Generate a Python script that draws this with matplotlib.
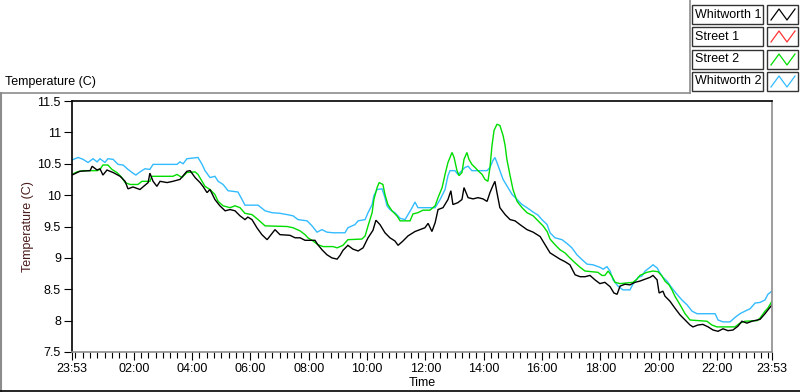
import matplotlib
matplotlib.use('Agg')
import matplotlib.pyplot as plt
from matplotlib.patches import Rectangle
from matplotlib.lines import Line2D
import numpy as np

plt.rcParams['font.family'] = ['Liberation Sans', 'DejaVu Sans']

# time in hours since 23:53, temperatures in C
w1_hours = [0.00, 0.27, 0.62, 0.69, 0.86, 0.96, 1.06, 1.20, 1.41, 1.65, 1.82, 1.92, 2.09, 2.33, 2.43,
            2.61, 2.67, 2.78, 2.91, 3.02, 3.26, 3.46, 3.70, 3.81, 3.94, 4.05, 4.22, 4.39, 4.49, 4.63,
            4.73, 4.90, 5.07, 5.25, 5.42, 5.59, 5.76, 5.93, 6.03, 6.17, 6.34, 6.51, 6.69, 6.79, 6.96,
            7.13, 7.47, 7.65, 7.82, 7.99, 8.16, 8.33, 8.43, 8.57, 8.74, 8.91, 9.09, 9.19, 9.29, 9.46,
            9.63, 9.81, 9.98, 10.15, 10.32, 10.42, 10.56, 10.73, 10.90, 11.07, 11.18, 11.35, 11.52,
            11.76, 11.93, 12.10, 12.21, 12.34, 12.45, 12.55, 12.72, 12.89, 12.99, 13.06, 13.23, 13.37,
            13.44, 13.58, 13.75, 13.92, 14.09, 14.23, 14.33, 14.43, 14.50, 14.57, 14.67, 14.85, 15.02,
            15.19, 15.36, 15.60, 15.81, 16.05, 16.22, 16.39, 16.56, 16.73, 16.90, 17.07, 17.25, 17.42,
            17.59, 17.76, 17.93, 18.10, 18.27, 18.45, 18.58, 18.69, 18.79, 18.96, 19.13, 19.30, 19.47,
            19.65, 19.82, 19.92, 20.06, 20.13, 20.26, 20.33, 20.50, 20.67, 20.85, 21.02, 21.19, 21.29,
            21.46, 21.63, 21.81, 21.98, 22.15, 22.32, 22.49, 22.66, 22.83, 22.97, 23.14, 23.31, 23.49,
            23.59, 23.76, 23.86, 24.00]
w1_temp = [10.32, 10.38, 10.39, 10.46, 10.40, 10.42, 10.32, 10.40, 10.36, 10.30, 10.22, 10.10, 10.13,
           10.09, 10.13, 10.20, 10.35, 10.22, 10.14, 10.22, 10.20, 10.22, 10.25, 10.31, 10.38, 10.39,
           10.28, 10.20, 10.14, 10.04, 10.09, 9.93, 9.83, 9.75, 9.77, 9.75, 9.67, 9.61, 9.65, 9.61,
           9.48, 9.37, 9.29, 9.35, 9.45, 9.37, 9.36, 9.32, 9.32, 9.28, 9.28, 9.28, 9.21, 9.13, 9.05,
           9.00, 8.98, 9.04, 9.12, 9.20, 9.14, 9.11, 9.16, 9.32, 9.44, 9.60, 9.53, 9.40, 9.32, 9.27,
           9.20, 9.27, 9.35, 9.42, 9.45, 9.48, 9.55, 9.42, 9.56, 9.77, 9.80, 9.93, 10.07, 9.85, 9.88,
           9.93, 10.12, 9.96, 9.94, 9.96, 9.94, 9.90, 10.04, 10.15, 10.22, 10.04, 9.80, 9.69, 9.61,
           9.59, 9.53, 9.45, 9.41, 9.34, 9.21, 9.08, 9.03, 8.98, 8.94, 8.89, 8.73, 8.70, 8.70, 8.72,
           8.65, 8.59, 8.61, 8.54, 8.44, 8.42, 8.55, 8.58, 8.57, 8.61, 8.63, 8.66, 8.69, 8.72, 8.65,
           8.44, 8.47, 8.39, 8.31, 8.20, 8.09, 8.01, 7.93, 7.90, 7.93, 7.94, 7.90, 7.85, 7.83, 7.87,
           7.84, 7.85, 7.91, 7.99, 7.96, 7.99, 8.01, 8.02, 8.11, 8.17, 8.25]

s1_hours = []
s1_temp = []

s2_hours = [0.00, 0.17, 0.38, 0.86, 0.96, 1.06, 1.23, 1.37, 1.54, 1.71, 1.82, 1.99, 2.26, 2.40, 2.67,
            2.74, 3.46, 3.60, 3.77, 3.94, 4.22, 4.32, 4.46, 4.56, 4.73, 4.90, 5.01, 5.18, 5.42, 5.59,
            5.76, 5.93, 6.17, 6.38, 6.62, 7.37, 7.58, 7.82, 7.99, 8.09, 8.26, 8.43, 8.61, 8.95, 9.09,
            9.29, 9.46, 9.94, 10.05, 10.15, 10.29, 10.35, 10.46, 10.53, 10.66, 10.73, 10.83, 10.97,
            11.14, 11.25, 11.59, 11.69, 11.86, 12.03, 12.27, 12.45, 12.55, 12.69, 12.79, 12.89, 13.03,
            13.10, 13.20, 13.27, 13.37, 13.44, 13.54, 13.61, 13.71, 13.82, 13.92, 14.06, 14.16, 14.26,
            14.33, 14.40, 14.47, 14.57, 14.67, 14.78, 14.85, 14.91, 15.02, 15.12, 15.26, 15.43, 15.60,
            15.81, 15.98, 16.15, 16.29, 16.39, 16.56, 16.73, 16.90, 17.07, 17.25, 17.42, 17.59, 18.03,
            18.17, 18.27, 18.38, 18.51, 18.62, 18.79, 19.23, 19.37, 19.47, 19.71, 19.92, 20.09, 20.23,
            20.33, 20.47, 20.57, 20.67, 20.85, 21.02, 21.19, 21.77, 21.94, 22.11, 22.73, 22.90, 23.07,
            23.49, 23.59, 23.76, 23.86, 24.00]
s2_temp = [10.33, 10.37, 10.39, 10.39, 10.41, 10.48, 10.48, 10.41, 10.36, 10.28, 10.20, 10.17, 10.17,
           10.22, 10.22, 10.30, 10.30, 10.33, 10.28, 10.36, 10.37, 10.33, 10.22, 10.14, 10.09, 10.01,
           9.90, 9.83, 9.80, 9.83, 9.80, 9.71, 9.69, 9.61, 9.51, 9.50, 9.48, 9.43, 9.37, 9.32, 9.27,
           9.21, 9.18, 9.18, 9.16, 9.20, 9.29, 9.30, 9.35, 9.51, 9.72, 9.93, 10.12, 10.20, 10.17,
           10.01, 9.85, 9.75, 9.67, 9.59, 9.59, 9.70, 9.72, 9.76, 9.76, 9.83, 9.96, 10.12, 10.33,
           10.52, 10.68, 10.60, 10.39, 10.31, 10.36, 10.57, 10.68, 10.57, 10.49, 10.44, 10.39, 10.33,
           10.25, 10.22, 10.44, 10.79, 11.03, 11.13, 11.11, 10.95, 10.79, 10.57, 10.31, 10.09, 9.90,
           9.80, 9.72, 9.67, 9.59, 9.51, 9.42, 9.30, 9.21, 9.13, 9.08, 9.00, 8.92, 8.85, 8.79, 8.77,
           8.72, 8.72, 8.79, 8.71, 8.61, 8.59, 8.61, 8.66, 8.72, 8.77, 8.79, 8.78, 8.71, 8.63, 8.57,
           8.49, 8.39, 8.25, 8.11, 8.01, 7.99, 7.93, 7.90, 7.90, 7.96, 7.99, 8.00, 8.04, 8.15, 8.20,
           8.31]

w2_hours = [0.00, 0.21, 0.38, 0.55, 0.72, 0.86, 0.96, 1.13, 1.23, 1.41, 1.58, 1.75, 1.92, 2.09, 2.19,
            2.33, 2.50, 2.67, 2.78, 3.60, 3.70, 3.81, 3.94, 4.32, 4.46, 4.56, 4.73, 4.90, 5.01, 5.18,
            5.35, 5.69, 5.83, 5.93, 6.38, 6.62, 6.86, 7.13, 7.37, 7.58, 7.75, 8.06, 8.23, 8.40, 8.57,
            8.74, 8.95, 9.36, 9.46, 9.70, 9.81, 10.05, 10.15, 10.29, 10.35, 10.46, 10.63, 10.73, 10.80,
            10.90, 11.07, 11.25, 11.42, 11.52, 11.66, 11.76, 11.86, 12.45, 12.62, 12.79, 12.89, 12.96,
            13.13, 13.23, 13.37, 13.47, 13.58, 13.71, 14.23, 14.33, 14.43, 14.50, 14.57, 14.67, 14.78,
            14.91, 15.09, 15.26, 15.43, 15.60, 15.81, 15.98, 16.11, 16.29, 16.39, 16.56, 16.80, 16.97,
            17.14, 17.31, 17.49, 17.66, 17.86, 18.10, 18.21, 18.34, 18.45, 18.55, 18.72, 18.89, 19.13,
            19.23, 19.41, 19.54, 19.65, 19.82, 19.92, 20.06, 20.16, 20.26, 20.40, 20.57, 20.74, 20.91,
            21.09, 21.26, 21.43, 22.05, 22.15, 22.32, 22.56, 22.73, 22.90, 23.07, 23.25, 23.42, 23.59,
            23.76, 23.86, 24.00]
w2_temp = [10.56, 10.60, 10.57, 10.52, 10.58, 10.53, 10.58, 10.52, 10.58, 10.57, 10.49, 10.48, 10.41,
           10.35, 10.32, 10.37, 10.42, 10.41, 10.49, 10.49, 10.53, 10.50, 10.58, 10.60, 10.49, 10.39,
           10.28, 10.30, 10.22, 10.17, 10.07, 10.05, 9.93, 9.84, 9.84, 9.75, 9.72, 9.71, 9.69, 9.67,
           9.61, 9.59, 9.51, 9.41, 9.45, 9.41, 9.40, 9.40, 9.48, 9.53, 9.59, 9.61, 9.72, 9.85, 9.99,
           10.09, 10.10, 9.96, 9.83, 9.77, 9.72, 9.63, 9.61, 9.69, 9.80, 9.89, 9.80, 9.80, 9.93, 10.09,
           10.31, 10.39, 10.39, 10.33, 10.39, 10.44, 10.46, 10.39, 10.39, 10.44, 10.55, 10.60, 10.52,
           10.39, 10.25, 10.15, 10.01, 9.93, 9.85, 9.80, 9.73, 9.68, 9.61, 9.53, 9.40, 9.32, 9.29,
           9.23, 9.16, 9.05, 8.97, 8.90, 8.89, 8.85, 8.82, 8.86, 8.79, 8.65, 8.55, 8.49, 8.49, 8.58,
           8.69, 8.71, 8.79, 8.85, 8.89, 8.84, 8.76, 8.69, 8.63, 8.52, 8.42, 8.33, 8.25, 8.15, 8.11,
           8.11, 8.01, 7.98, 7.98, 8.05, 8.11, 8.15, 8.19, 8.28, 8.29, 8.33, 8.42, 8.47]

names = ['Whitworth 1', 'Street 1', 'Street 2', 'Whitworth 2']
colors = ['#000000', '#ff3333', '#00dd00', '#33bbff']

W, H = 800, 392
fig = plt.figure(figsize=(W / 100, H / 100), dpi=100)

def fx(x):
    return x / W

def fy(y):
    return 1 - y / H

ax = fig.add_axes([fx(72), fy(352), fx(772) - fx(72), fy(101) - fy(352)])

series = [(w2_hours, w2_temp, colors[3]), (s1_hours, s1_temp, colors[1]),
          (s2_hours, s2_temp, colors[2]), (w1_hours, w1_temp, colors[0])]
for hrs, temp, c in series:
    ax.plot(hrs, temp, color=c, lw=1.0, solid_joinstyle='miter')

ax.set_xlim(0, 24)
ax.set_ylim(7.5, 11.5)

# ticks: 23:53 at both ends, every 2 h on the clock between
offset = 7 / 60  # 23:53 -> 00:00
major = [0] + [offset + 2 * k for k in range(1, 12)] + [24]
labels = ['23:53'] + ['%02d:00' % (2 * k) for k in range(1, 12)] + ['23:53']
ax.set_xticks(major)
ax.set_xticklabels(labels)
ax.set_xticks(np.arange(offset, 24, 0.25), minor=True)
yt = np.arange(7.5, 11.51, 0.5)
ax.set_yticks(yt)
ax.set_yticklabels(['%g' % v for v in yt])

ax.tick_params(axis='both', labelsize=9, color='black', width=0.8)
ax.tick_params(axis='x', which='major', length=6, pad=2)
ax.tick_params(axis='x', which='minor', length=4, width=0.8)
ax.tick_params(axis='y', length=6, pad=2)

ax.spines['top'].set_color('black')
ax.spines['left'].set_color('black')
ax.spines['bottom'].set_color('#8c8c8c')
ax.spines['right'].set_color('#8c8c8c')
for s in ax.spines.values():
    s.set_linewidth(1.2)

ax.set_xlabel('Time', fontsize=9, labelpad=1)
ax.set_ylabel('Temperature (C)', fontsize=9, labelpad=-2, color='#4a1c1c')
ax.yaxis.set_label_coords(-0.055, 0.5)

# outer frame of the graph
fig.add_artist(Line2D([fx(0), fx(690)], [fy(92.5), fy(92.5)], color='#8c8c8c', lw=1.2))
fig.add_artist(Line2D([fx(1), fx(1)], [fy(92.5), fy(392)], color='#8c8c8c', lw=1.5))
fig.add_artist(Line2D([fx(0), fx(800)], [fy(391), fy(391)], color='black', lw=1.2))
fig.add_artist(Line2D([fx(690), fx(690)], [fy(0), fy(92.5)], color='#8c8c8c', lw=1.2))
fig.text(fx(5), fy(82), 'Temperature (C)', fontsize=9, va='center', ha='left')

# plot legend, top right
row_tops = [5, 27, 50, 72]
for name, c, top in zip(names, colors, row_tops):
    fig.add_artist(Rectangle((fx(692), fy(top + 19)), fx(71), fy(0) - fy(19),
                             facecolor='white', edgecolor='#333333', lw=1.0))
    fig.add_artist(Rectangle((fx(767), fy(top + 19)), fx(31), fy(0) - fy(19),
                             facecolor='white', edgecolor='#333333', lw=1.0))
    fig.text(fx(695), fy(top + 9.5), name, fontsize=9, va='center', ha='left')
    zx = [771, 779, 787, 795]
    zy = [top + 15, top + 4, top + 15, top + 4]
    fig.add_artist(Line2D([fx(v) for v in zx], [fy(v) for v in zy], color=c, lw=0.9))

fig.savefig('out.png', dpi=100, facecolor='white')
